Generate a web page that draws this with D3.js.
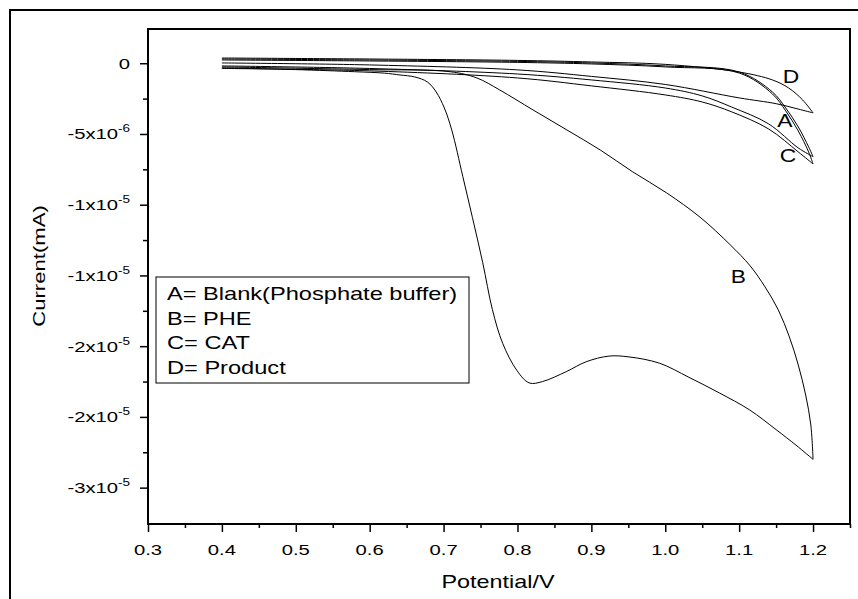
<!DOCTYPE html>
<html>
<head>
<meta charset="utf-8">
<script src="https://cdn.jsdelivr.net/npm/d3@7"></script>
<style>
  body { margin: 0; background: #fff; }
  text { font-family: "Liberation Sans", Arial, sans-serif; fill: #000; }
</style>
</head>
<body>
<div id="chart"></div>
<script>
// values: [potential (V), current (x10^-6)]
const bForward = [[0.40,-0.33],[0.50,-0.45],[0.58,-0.6],[0.62,-0.7],[0.641,-0.83],[0.661,-0.97],[0.678,-1.32],
  [0.690,-2.03],[0.701,-3.16],[0.711,-4.71],[0.726,-8.0],[0.739,-10.9],[0.753,-14.1],[0.766,-17.4],[0.780,-19.8],
  [0.799,-21.7],[0.816,-22.6],[0.834,-22.5],[0.866,-21.8],[0.893,-21.1],[0.924,-20.7],[0.951,-20.76],[0.992,-21.2],
  [1.032,-22.2],[1.073,-23.3],[1.114,-24.5],[1.15,-25.9],[1.177,-27.0],[1.2,-28.0]];
const bReverse = [[1.2,-28.0],[1.197,-25.57],[1.19,-23.45],[1.18,-21.33],[1.168,-19.35],[1.153,-17.44],
  [1.135,-15.81],[1.115,-14.33],[1.088,-12.84],[1.047,-10.88],[1.002,-9.17],[0.956,-7.68],[0.912,-6.13],
  [0.867,-4.72],[0.821,-3.3],[0.776,-1.89],[0.745,-1.04],[0.709,-0.6],[0.6,-0.45],[0.5,-0.35],[0.4,-0.26]];

const aUpper = [[0.4,0.3],[0.6,0.23],[0.8,0.13],[0.9,0.02],[1.0,-0.19],[1.1,-0.62],[1.145,-2.03],
  [1.163,-3.16],[1.18,-4.5],[1.194,-5.91],[1.2,-6.6]];
const aLower = [[1.2,-6.6],[1.18,-5.99],[1.14,-4.29],[1.09,-3.1],[1.05,-2.31],[1.0,-1.75],[0.9,-1.18],
  [0.8,-0.76],[0.6,-0.37],[0.4,-0.19]];

const cUpper = [[0.4,0.23],[0.6,0.16],[0.8,0.06],[0.9,-0.05],[1.0,-0.26],[1.1,-0.69],[1.145,-2.17],
  [1.163,-3.37],[1.18,-4.79],[1.194,-6.27],[1.2,-7.12]];
const cLower = [[1.2,-7.12],[1.18,-6.27],[1.14,-4.65],[1.09,-3.44],[1.05,-2.74],[1.0,-2.24],[0.9,-1.6],
  [0.8,-1.04],[0.6,-0.54],[0.4,-0.37]];

const dUpper = [[0.4,0.37],[0.6,0.3],[0.8,0.2],[0.9,0.09],[1.0,-0.08],[1.1,-0.62],[1.145,-1.18],
  [1.167,-1.75],[1.186,-2.6],[1.2,-3.51]];
const dLower = [[1.2,-3.51],[1.18,-3.24],[1.15,-2.86],[1.1,-2.45],[1.0,-1.5],[0.9,-0.93],[0.8,-0.47],
  [0.6,-0.12],[0.4,0.02]];

const xMajor = [0.3,0.4,0.5,0.6,0.7,0.8,0.9,1.0,1.1,1.2];
const xMinor = [0.35,0.45,0.55,0.65,0.75,0.85,0.95,1.05,1.15,1.25];
const yMajor = [0,-5,-10,-15,-20,-25,-30];
const yMinor = [-2.5,-7.5,-12.5,-17.5,-22.5,-27.5];
const yLabelBase = ["0","-5x10","-1x10","-1x10","-2x10","-2x10","-3x10"];
const yLabelExp = ["","-6","-5","-5","-5","-5","-5"];

const legendItems = ["A= Blank(Phosphate buffer)","B= PHE","C= CAT","D= Product"];
const curveLabels = [["D",1.17,-1.4],["A",1.162,-4.5],["C",1.166,-7.0],["B",1.099,-15.5]];

const W = 858, H = 599;
const svg = d3.select("#chart").append("svg").attr("width", W).attr("height", H);

// outer frame (runs past the right/bottom edge)
svg.append("rect").attr("x", 10).attr("y", 10).attr("width", 900).attr("height", 700)
  .attr("fill", "none").attr("stroke", "#000").attr("stroke-width", 2);

const x = d3.scaleLinear().domain([0.3, 1.25]).range([148, 850]);
const y = d3.scaleLinear().domain([-32.57, 2.42]).range([524, 29]);
const SX = 1.35;

// ticks
const gx = svg.append("g").attr("transform", "translate(0,524)");
gx.call(d3.axisBottom(x).tickValues(xMajor).tickSize(8).tickSizeOuter(0).tickFormat(""));
gx.append("g").call(d3.axisBottom(x).tickValues(xMinor).tickSize(4).tickSizeOuter(0).tickFormat(""));
gx.selectAll("path.domain").remove();
gx.selectAll("line").attr("stroke", "#000").attr("stroke-width", 1.5);

const gy = svg.append("g").attr("transform", "translate(148,0)");
gy.call(d3.axisLeft(y).tickValues(yMajor).tickSize(8).tickSizeOuter(0).tickFormat(""));
gy.append("g").call(d3.axisLeft(y).tickValues(yMinor).tickSize(5).tickSizeOuter(0).tickFormat(""));
gy.selectAll("path.domain").remove();
gy.selectAll("line").attr("stroke", "#000").attr("stroke-width", 1.5);

// plot box
svg.append("rect").attr("x", 148).attr("y", 29).attr("width", 702).attr("height", 495)
  .attr("fill", "none").attr("stroke", "#000").attr("stroke-width", 2);

// tick labels
svg.append("g").selectAll("text").data(xMajor).join("text")
  .attr("transform", d => `translate(${x(d)},555) scale(${SX},1)`)
  .attr("text-anchor", "middle").style("font-size", "15px")
  .text(d => d3.format(".1f")(d));

const yl = svg.append("g").selectAll("text").data(yMajor).join("text")
  .attr("transform", d => `translate(130,${y(d) + 5.5}) scale(${SX},1)`)
  .attr("text-anchor", "end").style("font-size", "15px");
yl.append("tspan").text((d, i) => yLabelBase[i]);
yl.append("tspan").attr("dy", -7).style("font-size", "10px").text((d, i) => yLabelExp[i]);

// axis titles
svg.append("text").attr("transform", `translate(498,588) scale(1.3,1)`)
  .attr("text-anchor", "middle").style("font-size", "18px").text("Potential/V");
svg.append("text").attr("transform", `translate(45,266) rotate(-90) scale(1.3,1)`)
  .attr("text-anchor", "middle").style("font-size", "17px").text("Current(mA)");

// curves, one path per branch so the turning point at 1.2 V stays sharp
const line = d3.line().x(d => x(d[0])).y(d => y(d[1])).curve(d3.curveCatmullRom.alpha(0.5));
const branches = [bForward, bReverse, aUpper, aLower, cUpper, cLower, dUpper, dLower];
svg.append("g").selectAll("path").data(branches).join("path")
  .attr("d", line).attr("fill", "none").attr("stroke", "#000").attr("stroke-width", 1);

// curve labels
svg.append("g").selectAll("text").data(curveLabels).join("text")
  .attr("transform", d => `translate(${x(d[1])},${y(d[2])}) scale(1.2,1)`)
  .attr("text-anchor", "middle").style("font-size", "19px").text(d => d[0]);

// legend
svg.append("rect").attr("x", 156).attr("y", 277).attr("width", 313).attr("height", 106)
  .attr("fill", "#fff").attr("stroke", "#000").attr("stroke-width", 1);
svg.append("g").selectAll("text").data(legendItems).join("text")
  .attr("transform", (d, i) => `translate(167,${300 + i * 24.7}) scale(${SX},1)`)
  .style("font-size", "17.5px").text(d => d);
</script>
</body>
</html>
